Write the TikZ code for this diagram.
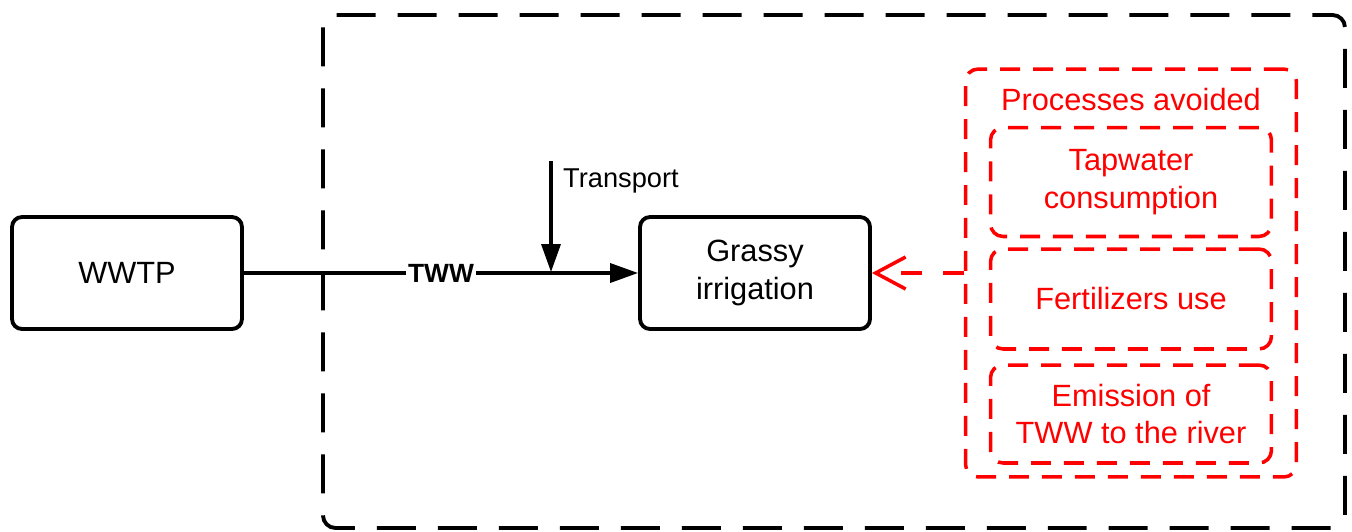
\documentclass[tikz,border=0pt]{standalone}
\usepackage{fontspec}
\setmainfont{Liberation Sans}
\usetikzlibrary{arrows.meta}

\begin{document}
\begin{tikzpicture}[x=0.02cm, y=-0.02cm,
    box/.style={draw, line width=2.2pt, rounded corners=0.2cm, minimum width=4.6cm,
        minimum height=2.24cm, align=center, font=\fontsize{17.5}{21.5}\selectfont},
    redbox/.style={draw=red, text=red, line width=2pt, dash pattern=on 0.4cm off 0.26cm,
        rounded corners=0.25cm, minimum width=5.62cm, align=center,
        font=\fontsize{17.5}{21.5}\selectfont},
    flow/.style={line width=2pt, -{Triangle[length=0.56cm, width=0.38cm]}}]

\useasboundingbox (0,0) rectangle (1352,531);

% system boundary
\draw[line width=2.2pt, dash pattern=on 0.78cm off 0.44cm, rounded corners=0.25cm]
    (323,15) rectangle (1345,528);

% the two processes
\node (wwtp) [box] at (127,273) {WWTP};
\node (grassy) [box] at (755,273) {Grassy\\irrigation};

% processes avoided
\node (avoided) [redbox, minimum width=6.62cm, minimum height=8.16cm] at (1131,273) {};
\node (avtitle) [text=red, font=\fontsize{17.5}{21.5}\selectfont] at (1131,100) {Processes avoided};
\node (tap) [redbox, minimum height=2.18cm] at (1131,182) {Tapwater\\consumption};
\node (fert) [redbox, minimum height=2.0cm] at (1131,299) {Fertilizers use};
\node (emis) [redbox, minimum height=1.96cm] at (1131,414) {Emission of\\TWW to the river};

% flows
\draw[flow] (wwtp) -- node[fill=white, inner sep=1pt,
    font=\bfseries\fontsize{15}{18}\selectfont] (tww) {TWW} (grassy);

\coordinate (trtop) at (551,161);
\coordinate (trend) at (551,272);
\draw[flow] (trtop) -- (trend);
\node (trlabel) [anchor=west, font=\fontsize{15.5}{18}\selectfont] at (557,181) {Transport};

\draw[red, line width=2pt, dash pattern=on 0.42cm off 0.42cm,
    -{Straight Barb[length=0.6cm, width=0.64cm]}] (avoided.west) -- (grassy.east);

\end{tikzpicture}
\end{document}
